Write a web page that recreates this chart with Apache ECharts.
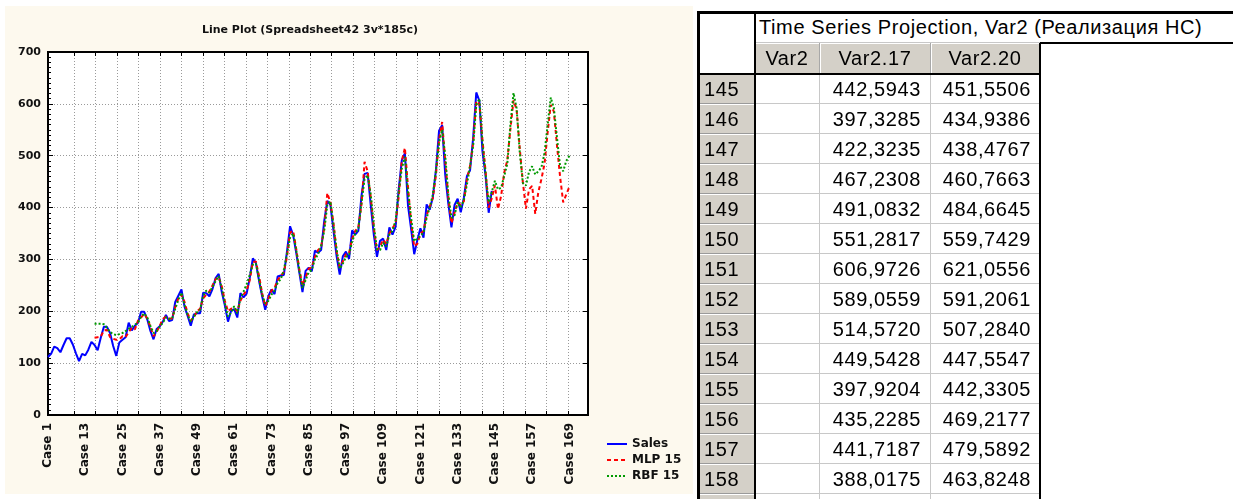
<!DOCTYPE html>
<html><head><meta charset="utf-8">
<script src="https://cdn.jsdelivr.net/npm/echarts@6/dist/echarts.min.js"></script>
<style>
html,body{margin:0;padding:0;background:#fff;width:1233px;height:499px;overflow:hidden;}
#chart{position:absolute;left:5px;top:6px;width:688px;height:488px;background:#fdf9ee;}
#tbl{position:absolute;left:0;top:0;width:1233px;height:499px;font-family:"Liberation Sans",Arial,sans-serif;font-size:20px;letter-spacing:0.6px;color:#000;}
.c{position:absolute;box-sizing:border-box;white-space:nowrap;overflow:hidden;}
.k{position:absolute;background:#000;}
</style></head><body>
<div id="chart"></div>
<div id="tbl"></div>
<script>
// ---------- data ----------
const chartTitle = 'Line Plot (Spreadsheet42 3v*185c)';
const yTicks = [0, 100, 200, 300, 400, 500, 600, 700];
const caseCount = 175;            // categories on the x axis
const labelEvery = 12;            // Case 1, 13, 25, ...
const seriesNames = ['Sales', 'MLP 15', 'RBF 15'];

// Sales, cases 1..144
const sales = [
 112,118,132,129,121,135,148,148,136,119,104,118,
 115,126,141,135,125,149,170,170,158,133,114,140,
 145,150,178,163,172,178,199,199,184,162,146,166,
 171,180,193,181,183,218,230,242,209,191,172,194,
 196,196,236,235,229,243,264,272,237,211,180,201,
 204,188,235,227,234,264,302,293,259,229,203,229,
 242,233,267,269,270,315,364,347,312,274,237,278,
 284,277,317,313,318,374,413,405,355,306,271,306,
 315,301,356,348,355,422,465,467,404,347,305,336,
 340,318,362,348,363,435,491,505,404,359,310,337,
 360,342,406,396,420,472,548,559,463,407,362,405,
 417,391,419,461,472,535,622,606,508,461,390,432
];
const predStart = 16; // first predicted case
// MLP 15 fitted values, cases 16..144
const mlpFit = [
 149,150,151,163,164,150,147,145,146,152,150,160,168,165,182,
 188,195,186,170,152,160,172,185,190,186,186,208,225,232,218,
 196,182,188,200,205,225,232,238,250,262,266,248,220,200,205,
 206,200,220,232,240,260,295,296,268,235,210,225,240,245,260,
 268,276,305,352,355,320,280,250,265,282,285,305,318,324,360,
 428,410,370,315,285,296,310,312,340,355,362,405,488,470,420,
 360,318,325,338,330,350,360,370,420,490,515,440,372,325,330,
 350,355,385,402,418,462,530,565,490,420,370,390,410,405,412,
 455,480,525,605,600,530,470,400,418
];
// RBF 15 fitted values, cases 16..144
const rbfFit = [
 176,176,176,175,168,160,156,154,156,158,162,166,170,174,178,
 190,196,188,172,158,162,170,178,188,185,186,205,222,236,212,
 193,180,190,198,203,230,240,236,247,258,268,244,215,190,198,
 210,196,225,238,252,270,290,292,262,232,215,220,232,240,255,
 262,280,310,342,350,318,278,245,260,275,280,300,310,325,355,
 405,412,365,320,282,292,305,308,335,350,360,408,455,462,425,
 365,320,318,332,325,348,355,375,430,475,498,430,380,335,340,
 345,352,380,400,425,470,525,550,500,425,380,385,410,400,415,
 445,480,520,598,610,525,465,410,430
];
// Projection table, cases 145..158
const projCases = [145,146,147,148,149,150,151,152,153,154,155,156,157,158];
const mlpProj = [442.5943,397.3285,422.3235,467.2308,491.0832,551.2817,606.9726,589.0559,514.5720,449.5428,397.9204,435.2285,441.7187,388.0175];
const rbfProj = [451.5506,434.9386,438.4767,460.7663,484.6645,559.7429,621.0556,591.2061,507.2840,447.5547,442.3305,469.2177,479.5892,463.8248];
// Projection beyond the table, cases 159..169
const mlpExt = [430,455,485,545,598,585,520,460,410,425,440];
const rbfExt = [470,478,505,560,612,592,535,480,470,490,500];
const tableTitle = 'Time Series Projection, Var2 (Реализация НС)';
const tableHeads = ['Var2', 'Var2.17', 'Var2.20'];

// ---------- chart ----------
const cats = [];
for (let i = 1; i <= caseCount; i++) cats.push('Case ' + i);
const salesData = sales.map((v, i) => [i, v]);
const mlpData = mlpFit.concat(mlpProj, mlpExt).map((v, i) => [predStart - 1 + i, v]);
const rbfData = rbfFit.concat(rbfProj, rbfExt).map((v, i) => [predStart - 1 + i, v]);

const dotted = {color: '#9a9a9a', width: 1, type: [1, 2]};
const lblFont = {fontFamily: 'DejaVu Sans', fontWeight: 'bold', color: '#111'};

const chart = echarts.init(document.getElementById('chart'));
chart.setOption({
  animation: false,
  title: {text: chartTitle, left: 300, top: 14, textAlign: 'center',
    textStyle: {fontFamily: 'DejaVu Sans', fontWeight: 'bold', fontSize: 11, color: '#111'}},
  legend: {orient: 'vertical', left: 596, top: 427, itemWidth: 20, itemHeight: 8, itemGap: 4,
    data: seriesNames,
    itemStyle: {opacity: 0, borderWidth: 0},
    textStyle: Object.assign({fontSize: 12, lineHeight: 12}, lblFont)},
  grid: [
    {left: 43, top: 46, width: 540, height: 363, show: true, backgroundColor: '#fff',
     borderColor: '#000', borderWidth: 2, containLabel: false, outerBoundsMode: 'none'},
    {left: 69, top: 46, width: 494, height: 363, show: false, containLabel: false, outerBoundsMode: 'none'}
  ],
  xAxis: [
    {type: 'category', gridIndex: 0, data: cats, boundaryGap: false, z: 3,
     axisLine: {lineStyle: {color: '#000', width: 2}},
     axisTick: {show: false},
     axisLabel: Object.assign({interval: labelEvery - 1, rotate: 90, margin: 8, fontSize: 12}, lblFont),
     splitLine: {show: false}},
    {type: 'value', gridIndex: 1, min: 0, max: 23, interval: 1, z: 1,
     axisLine: {show: false},
     axisTick: {show: true, inside: true, length: 4, lineStyle: {color: '#000'}},
     axisLabel: {show: false},
     splitLine: {show: true, lineStyle: dotted}},
    {type: 'value', gridIndex: 1, min: 0, max: 23, interval: 1, position: 'top', z: 1,
     axisLine: {show: false},
     axisTick: {show: true, inside: true, length: 4, lineStyle: {color: '#000'}},
     axisLabel: {show: false},
     splitLine: {show: false}}
  ],
  yAxis: [
    {type: 'value', gridIndex: 0, min: yTicks[0], max: yTicks[yTicks.length - 1], interval: 100, z: 3,
     axisLine: {show: true, lineStyle: {color: '#000', width: 2}},
     axisTick: {show: true, inside: true, length: 5, lineStyle: {color: '#000'}},
     minorTick: {show: true, splitNumber: 10, length: 3, lineStyle: {color: '#000'}},
     axisLabel: Object.assign({margin: 7, fontSize: 11}, lblFont),
     splitLine: {show: true, showMinLine: false, showMaxLine: false, lineStyle: dotted}},
    {type: 'value', gridIndex: 0, min: 0, max: 700, interval: 100, position: 'right', z: 3,
     axisLine: {show: true, lineStyle: {color: '#000', width: 2}},
     axisTick: {show: true, inside: true, length: 5, lineStyle: {color: '#000'}},
     axisLabel: {show: false}, splitLine: {show: false}},
    {type: 'value', gridIndex: 1, min: 0, max: 1, show: false}
  ],
  series: [
    {name: seriesNames[0], type: 'line', xAxisIndex: 0, yAxisIndex: 0, data: salesData,
     symbol: 'none', color: '#0000ff', lineStyle: {color: '#0000ff', width: 2}},
    {name: seriesNames[1], type: 'line', xAxisIndex: 0, yAxisIndex: 0, data: mlpData,
     symbol: 'none', color: '#ff0000', lineStyle: {color: '#ff0000', width: 2, type: [4, 3]}},
    {name: seriesNames[2], type: 'line', xAxisIndex: 0, yAxisIndex: 0, data: rbfData,
     symbol: 'none', color: '#009a00', lineStyle: {color: '#009a00', width: 2, type: [2, 2]}}
  ]
});

// ---------- table ----------
const tbl = document.getElementById('tbl');
function cell(x, y, w, h, text, css) {
  const d = document.createElement('div');
  d.className = 'c';
  d.style.cssText = `left:${x}px;top:${y}px;width:${w}px;height:${h}px;line-height:${h}px;` + (css || '');
  d.textContent = text;
  tbl.appendChild(d);
}
function bar(x, y, w, h) {
  const d = document.createElement('div');
  d.className = 'k';
  d.style.cssText = `left:${x}px;top:${y}px;width:${w}px;height:${h}px;`;
  tbl.appendChild(d);
}
const colX = [697, 755, 820, 931, 1040];
const gray = '#d4d0c8';
const rowTop = 74, rowH = 30;
cell(697, 12, 58, 62, '', 'background:#fff;');
cell(755, 12, 478, 31, tableTitle, 'background:#fff;padding-left:4px;border-bottom:1px solid #c8c8c8;');
tableHeads.forEach((h, j) => {
  cell(colX[j + 1], 43, colX[j + 2] - colX[j + 1], 31, h,
    `background:${gray};text-align:center;border-right:1px solid #a8a8a8;box-shadow:inset 1px 1px 0 #fff;`);
});
const rows = projCases.concat([159]);
rows.forEach((c, k) => {
  const y = rowTop + k * rowH;
  const idx = projCases.indexOf(c);
  cell(colX[0], y, colX[1] - colX[0], rowH, String(c),
    `background:${gray};padding-left:7px;border-bottom:1px solid #9a9a9a;box-shadow:inset 0 1px 0 #fff;`);
  cell(colX[1], y, colX[2] - colX[1], rowH, '', 'background:#fff;border-right:1px solid #c8c8c8;border-bottom:1px solid #c8c8c8;');
  const a = idx >= 0 ? mlpProj[idx].toFixed(4).replace('.', ',') : '';
  const b = idx >= 0 ? rbfProj[idx].toFixed(4).replace('.', ',') : '';
  cell(colX[2], y, colX[3] - colX[2], rowH, a, 'background:#fff;text-align:right;padding-right:9px;border-right:1px solid #c8c8c8;border-bottom:1px solid #c8c8c8;');
  cell(colX[3], y, colX[4] - colX[3], rowH, b, 'background:#fff;text-align:right;padding-right:9px;border-bottom:1px solid #c8c8c8;');
});
// thick rules
bar(697, 11, 536, 3);
bar(697, 11, 3, 488);
bar(754, 11, 2, 488);
bar(697, 73, 343, 2);
bar(1039, 43, 2, 456);
bar(1040, 42, 193, 2);
</script>
</body></html>
